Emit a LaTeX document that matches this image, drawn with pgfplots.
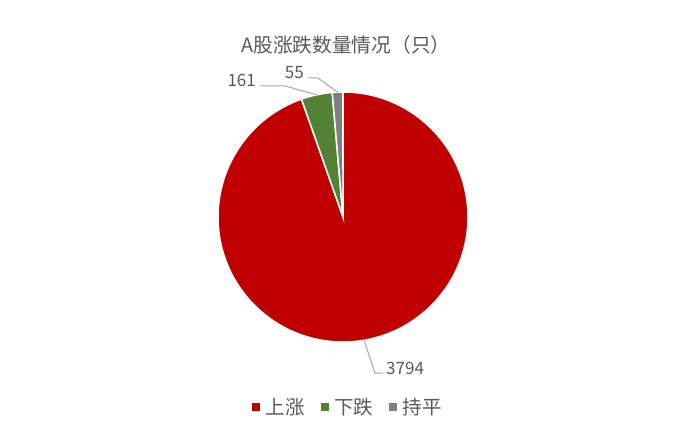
\documentclass[border=0pt]{standalone}
\usepackage{pgfplots}
\pgfplotsset{compat=1.18}
\usepackage{pgfplotstable}
\usepackage{fontspec}
\setmainfont{Noto Sans CJK SC}
\definecolor{upred}{HTML}{C00000}
\definecolor{downgreen}{HTML}{548235}
\definecolor{flatgray}{HTML}{808080}
\definecolor{txtgray}{HTML}{595959}
\definecolor{leadgray}{HTML}{A6A6A6}

% 上涨, 下跌, 持平
\pgfplotstableread{
value
3794
161
55
}\piedata

\begin{document}
\begin{tikzpicture}
\pgfplotstablegetelem{0}{value}\of\piedata \let\vA\pgfplotsretval
\pgfplotstablegetelem{1}{value}\of\piedata \let\vB\pgfplotsretval
\pgfplotstablegetelem{2}{value}\of\piedata \let\vC\pgfplotsretval
\pgfmathsetmacro\tot{\vA+\vB+\vC}
\pgfmathsetmacro\aA{90}
\pgfmathsetmacro\aB{\aA-360*(\vA/\tot)}
\pgfmathsetmacro\aC{\aB-360*(\vB/\tot)}
\pgfmathsetmacro\aD{\aC-360*(\vC/\tot)}
\pgfmathsetmacro\mA{(\aA+\aB)/2}
\pgfmathsetmacro\mB{(\aB+\aC)/2}
\pgfmathsetmacro\mC{(\aC+\aD)/2}
\begin{axis}[
  at={(0,0)}, anchor=south west,
  width=693bp, height=433bp, scale only axis,
  xmin=0, xmax=693, ymin=0, ymax=433, y dir=reverse,
  hide axis, clip=false,
  legend columns=3,
  legend style={at={(axis cs:348,407)}, anchor=center, draw=none, fill=none,
    font=\fontsize{19.5bp}{22bp}\selectfont, text=txtgray,
    /tikz/every odd column/.append style={column sep=4bp},
    /tikz/every even column/.append style={column sep=14bp}},
  legend cell align=left,
]
\def\r{125bp}
\coordinate (bl) at (axis cs:0,433);
\coordinate (tr) at (axis cs:693,0);
% slices
\fill[upred, draw=white, line width=1.5bp] (axis cs:343,217) -- ++(\aA:\r)
  arc[start angle=\aA, end angle=\aB, radius=\r] -- cycle;
\fill[downgreen, draw=white, line width=1.5bp] (axis cs:343,217) -- ++(\aB:\r)
  arc[start angle=\aB, end angle=\aC, radius=\r] -- cycle;
\fill[flatgray, draw=white, line width=1.5bp] (axis cs:343,217) -- ++(\aC:\r)
  arc[start angle=\aC, end angle=\aD, radius=\r] -- cycle;

% leader lines
\draw[leadgray, line width=1bp] (axis cs:343,217) ++(\mA:\r) -- (axis cs:375,373) -- (axis cs:383,373);
\draw[leadgray, line width=1bp] (axis cs:343,217) ++(\mB:\r) -- (axis cs:285,86) -- (axis cs:260,86);
\draw[leadgray, line width=1bp] (axis cs:343,217) ++(\mC:\r) -- (axis cs:318,78) -- (axis cs:308,78);

% data labels
\node[anchor=west, text=txtgray, font=\fontsize{17bp}{20bp}\selectfont, inner sep=1bp] at (axis cs:385,368.5) {\vA};
\node[anchor=east, text=txtgray, font=\fontsize{17bp}{20bp}\selectfont, inner sep=1bp] at (axis cs:257,80) {\vB};
\node[anchor=east, text=txtgray, font=\fontsize{17bp}{20bp}\selectfont, inner sep=1bp] at (axis cs:305,72.5) {\vC};

% title
\node[text=txtgray, font=\fontsize{19.7bp}{23bp}\selectfont] at (axis cs:346,45) {A股涨跌数量情况（只）};

\addlegendimage{legend image code/.code={\fill[upred] (0bp,-3.5bp) rectangle (7bp,3.5bp);}}
\addlegendentry{上涨}
\addlegendimage{legend image code/.code={\fill[downgreen] (0bp,-3.5bp) rectangle (7bp,3.5bp);}}
\addlegendentry{下跌}
\addlegendimage{legend image code/.code={\fill[flatgray] (0bp,-3.5bp) rectangle (7bp,3.5bp);}}
\addlegendentry{持平}
\end{axis}
\pgfresetboundingbox
\path[use as bounding box] (bl) rectangle (tr);
\end{tikzpicture}
\end{document}
